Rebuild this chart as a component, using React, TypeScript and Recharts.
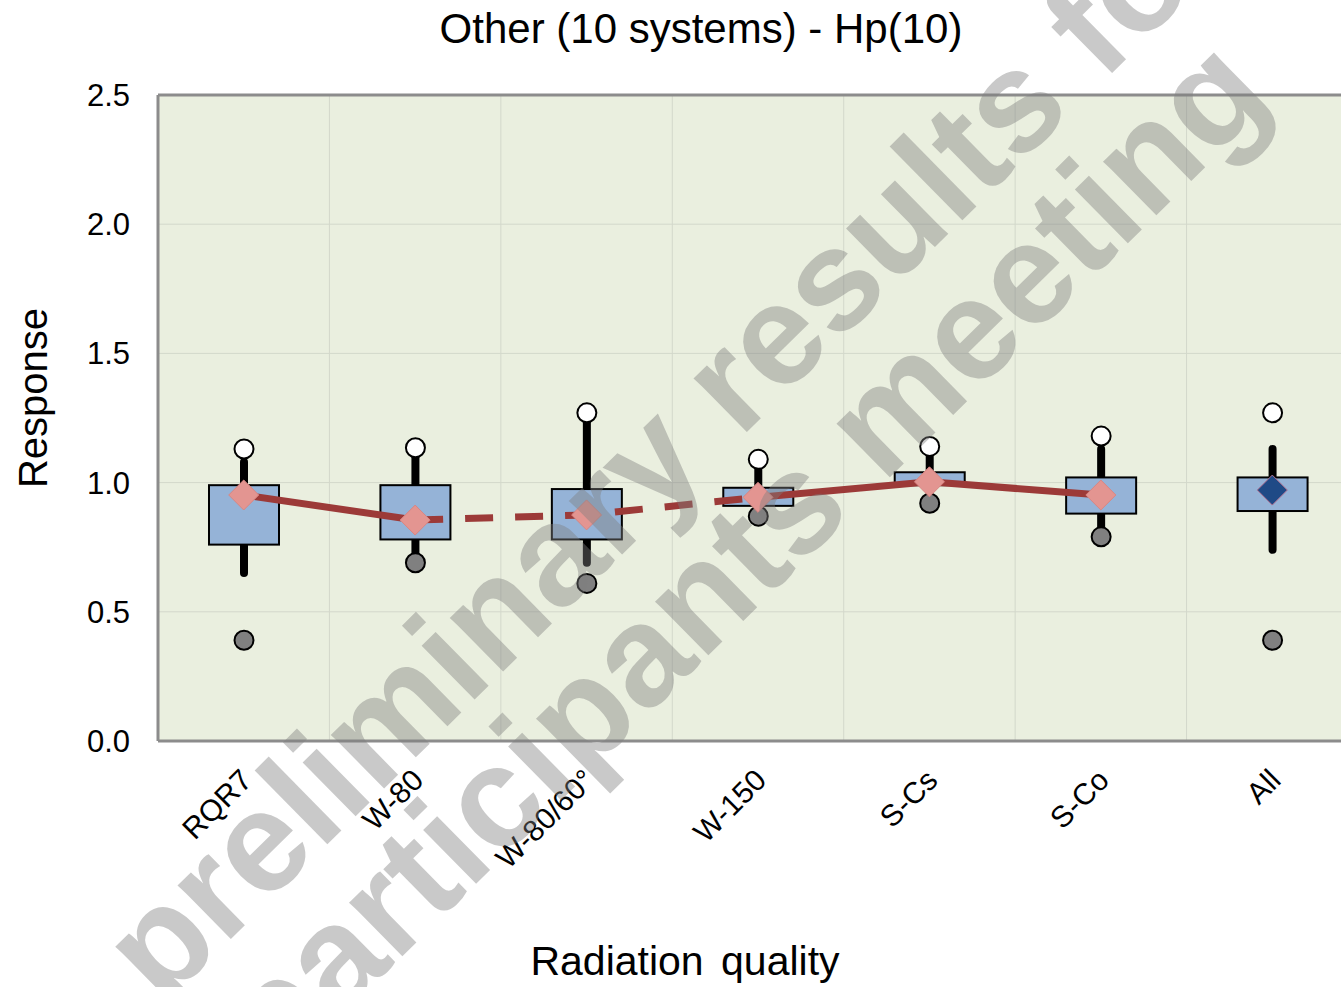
import React from 'react';
import { ComposedChart, Bar, Line, XAxis, YAxis, CartesianGrid, ReferenceLine, Label } from 'recharts';

const categories = ['RQR7', 'W-80', 'W-80/60°', 'W-150', 'S-Cs', 'S-Co', 'All'];
const maxPoints = [1.13, 1.135, 1.27, 1.09, 1.14, 1.18, 1.27];
const whiskerHigh = [1.08, 1.11, 1.25, 1.07, 1.11, 1.13, 1.13];
const q3Values = [0.99, 0.99, 0.975, 0.98, 1.04, 1.02, 1.02];
const q1Values = [0.76, 0.78, 0.78, 0.91, 0.99, 0.88, 0.89];
const whiskerLow = [0.65, 0.7, 0.69, 0.9, 0.98, 0.8, 0.74];
const minPoints = [0.39, 0.69, 0.61, 0.87, 0.92, 0.79, 0.39];
const means = [0.952, 0.855, 0.875, 0.943, 1.003, 0.952, 0.971];
const solidLink = [true, true, false, true, true, true, false];
const dashedLink = [false, true, true, true, false, false, false];
const yTicks = [0, 0.5, 1, 1.5, 2, 2.5];

const data = categories.map((cat, i) => ({
  cat,
  range: [minPoints[i], maxPoints[i]],
  min: minPoints[i],
  max: maxPoints[i],
  wL: whiskerLow[i],
  wH: whiskerHigh[i],
  q1: q1Values[i],
  q3: q3Values[i],
  mean: means[i],
  solid: solidLink[i] ? means[i] : null,
  dashed: dashedLink[i] ? means[i] : null,
}));

const FONT = '"Liberation Sans", Arial, Helvetica, sans-serif';

const BoxShape = (props: any) => {
  const { x, y, width, height, payload } = props;
  if (x == null || y == null || !payload) return <g />;
  const top = Math.min(y, y + height);
  const h = Math.abs(height);
  const lo = payload.min;
  const hi = payload.max;
  const py = (v: number) => top + ((hi - v) / (hi - lo)) * h;
  const cx = x + width / 2;
  return (
    <g>
      <line x1={cx} x2={cx} y1={py(payload.wL)} y2={py(payload.wH)} stroke="#000" strokeWidth={8} strokeLinecap="round" />
      <rect x={x} y={py(payload.q3)} width={width} height={py(payload.q1) - py(payload.q3)} fill="#95B3D7" stroke="#000" strokeWidth={2} />
      <circle cx={cx} cy={py(hi)} r={9.5} fill="#fff" stroke="#000" strokeWidth={2} />
      <circle cx={cx} cy={py(lo)} r={9.5} fill="#808080" stroke="#000" strokeWidth={2} />
    </g>
  );
};

const MeanDot = (props: any) => {
  const { cx, cy, payload, index } = props;
  if (cx == null || cy == null) return <g key={`d${index}`} />;
  const s = 15;
  const isAll = payload && payload.cat === 'All';
  return (
    <polygon
      key={`d${index}`}
      points={`${cx},${cy - s} ${cx + s},${cy} ${cx},${cy + s} ${cx - s},${cy}`}
      fill={isAll ? '#1F4A86' : '#E39591'}
      stroke={isAll ? '#B07090' : '#D88683'}
      strokeWidth={1}
    />
  );
};

const XTick = (props: any) => {
  const { x, y, payload } = props;
  const tx = x - 5;
  const ty = y + 26;
  return (
    <text x={tx} y={ty} dy="0.71em" textAnchor="end" transform={`rotate(-45, ${tx}, ${ty})`} fontSize={30} fontFamily={FONT} fill="#000">
      {payload.value}
    </text>
  );
};

export default function App() {
  return (
    <div style={{ position: 'absolute', left: 0, top: 0, width: 1341, height: 987, overflow: 'hidden', background: '#fff' }}>
      <ComposedChart width={1380} height={987} data={data} margin={{ top: 95, right: 22, bottom: 46, left: 0 }}>
        <CartesianGrid
          fill="#EAEFDF"
          stroke="#D3D8CB"
          strokeWidth={1}
          verticalCoordinatesGenerator={({ offset }: any) =>
            [1, 2, 3, 4, 5, 6].map((i) => offset.left + (offset.width * i) / 7)
          }
        />
        <XAxis
          dataKey="cat"
          interval={0}
          height={200}
          tickLine={false}
          tickSize={0}
          tickMargin={0}
          axisLine={{ stroke: '#8C8C8C', strokeWidth: 3 }}
          tick={<XTick />}
        >
          <Label
            content={() => (
              <text x={685} y={975} textAnchor="middle" fontSize={41} fontFamily={FONT} fill="#000" wordSpacing={6}>
                Radiation quality
              </text>
            )}
          />
        </XAxis>
        <YAxis
          type="number"
          domain={[0, 2.5]}
          ticks={yTicks}
          width={158}
          tickLine={false}
          tickSize={0}
          tickMargin={28}
          tickFormatter={(v: number) => v.toFixed(1)}
          axisLine={{ stroke: '#8C8C8C', strokeWidth: 3 }}
          tick={{ fontSize: 31, fontFamily: FONT, fill: '#000' }}
        >
          <Label
            content={() => (
              <text x={47} y={398} textAnchor="middle" transform="rotate(-90, 47, 398)" fontSize={40} fontFamily={FONT} fill="#000">
                Response
              </text>
            )}
          />
        </YAxis>
        <ReferenceLine y={2.5} stroke="#8C8C8C" strokeWidth={3} />
        <Bar dataKey="range" barSize={70} shape={<BoxShape />} isAnimationActive={false} />
        <Line dataKey="solid" type="linear" stroke="#9C3A38" strokeWidth={7} dot={false} connectNulls={false} isAnimationActive={false} />
        <Line dataKey="dashed" type="linear" stroke="#9C3A38" strokeWidth={7} strokeDasharray="28 22" dot={false} connectNulls={false} isAnimationActive={false} />
        <Line dataKey="mean" stroke="none" dot={<MeanDot />} activeDot={false} isAnimationActive={false} />
      </ComposedChart>
      <svg width={1341} height={987} style={{ position: 'absolute', left: 0, top: 0, pointerEvents: 'none' }}>
        <text x={701} y={43} textAnchor="middle" fontSize={42} fontFamily={FONT} fill="#000">
          Other (10 systems) - Hp(10)
        </text>
        <g fill="#7F7F7F" fillOpacity={0.42} fontFamily={FONT} fontWeight="bold" fontSize={143}>
          <text x={700} y={478} textAnchor="middle" transform="rotate(-44.5, 700, 478)">preliminary results for</text>
          <text x={775} y={590} textAnchor="middle" transform="rotate(-44.5, 775, 590)">participants meeting</text>
        </g>
      </svg>
    </div>
  );
}
